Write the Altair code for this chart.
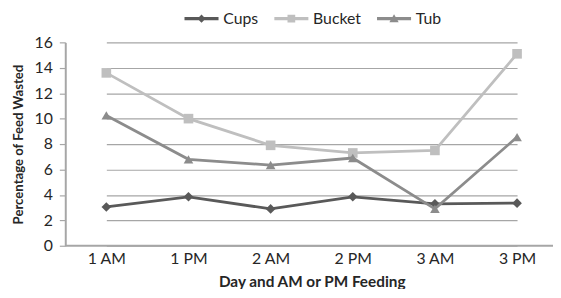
import altair as alt
import pandas as pd

times = ["1 AM", "1 PM", "2 AM", "2 PM", "3 AM", "3 PM"]
series = ["Cups", "Bucket", "Tub"]
cups = [3.05, 3.85, 2.9, 3.85, 3.3, 3.35]
bucket = [13.6, 10.0, 7.9, 7.3, 7.5, 15.1]
tub = [10.25, 6.8, 6.35, 6.9, 2.9, 8.55]
y_ticks = [0, 2, 4, 6, 8, 10, 12, 14, 16]
baseline = [0]

colors = ["#595959", "#bfbfbf", "#8c8c8c"]
shapes = ["diamond", "square", "triangle-up"]
legend_paths = [
    "M-3,-0.28H3V0.28H-3Z M0,-0.72L0.72,0L0,0.72L-0.72,0Z",
    "M-3,-0.28H3V0.28H-3Z M-0.68,-0.68H0.68V0.68H-0.68Z",
    "M-3,-0.28H3V0.28H-3Z M0,-0.78L0.82,0.62L-0.82,0.62Z",
]

rows = []
for s, vals in zip(series, [cups, bucket, tub]):
    for t, v in zip(times, vals):
        rows.append({"time": t, "series": s, "value": v})
df = pd.DataFrame(rows)

FONT = "Lato"
TXT = "#262626"
AXC = "#a6a6a6"

x_enc = alt.X(
    "time:N",
    sort=times,
    scale=alt.Scale(type="point", domain=times, range=[41.6, 457.6], padding=0),
    axis=alt.Axis(
        title="Day and AM or PM Feeding",
        domain=False,
        ticks=False,
        grid=False,
        labelAngle=0,
        labelPadding=5,
        labelFontSize=16,
        labelFont=FONT,
        labelColor=TXT,
        titleFont=FONT,
        titleFontSize=15.5,
        titleFontWeight="bold",
        titleColor=TXT,
        titlePadding=8,
    ),
)
y_enc = alt.Y(
    "value:Q",
    scale=alt.Scale(domain=[0, 16], nice=False, zero=True),
    axis=alt.Axis(
        values=y_ticks,
        title="Percentage of Feed Wasted",
        grid=True,
        gridColor=AXC,
        gridWidth=1.2,
        domainColor=AXC,
        domainWidth=2,
        tickColor=AXC,
        tickWidth=1.2,
        tickSize=6,
        labelPadding=7,
        labelFontSize=16,
        labelFont=FONT,
        labelColor=TXT,
        titleFont=FONT,
        titleFontSize=13.3,
        titleFontWeight="bold",
        titleColor=TXT,
        titlePadding=9,
    ),
)

base_rule = alt.Chart(pd.DataFrame({"value": baseline})).mark_rule(
    color=AXC, strokeWidth=2
).encode(y=y_enc)

layers = [base_rule]
for s, c, sh in zip(series, colors, shapes):
    sub = alt.Chart(df).transform_filter(alt.datum.series == s)
    layers.append(
        sub.mark_line(color=c, strokeWidth=2.8).encode(x=x_enc, y=y_enc)
    )
    layers.append(
        sub.mark_point(filled=True, shape=sh, size=95, color=c, opacity=1).encode(
            x=x_enc, y=y_enc
        )
    )

leg = alt.Legend(
    title=None,
    orient="none",
    legendX=130,
    legendY=-32,
    direction="horizontal",
    columns=3,
    symbolSize=132,
    symbolStrokeWidth=0,
    labelOffset=14,
    columnPadding=15,
    labelFontSize=16,
    labelFont=FONT,
    labelColor=TXT,
)
legend_layer = (
    alt.Chart(df)
    .mark_point(filled=True, opacity=1)
    .encode(
        shape=alt.Shape(
            "series:N", sort=series,
            scale=alt.Scale(domain=series, range=legend_paths), legend=leg
        ),
        color=alt.Color(
            "series:N", sort=series,
            scale=alt.Scale(domain=series, range=colors), legend=leg
        ),
    )
    .transform_filter("false")
)
layers.append(legend_layer)

chart = (
    alt.layer(*layers)
    .properties(
        width=494,
        height=206,
        autosize=alt.AutoSizeParams(type="none"),
        padding={"left": 58, "top": 33, "right": 0, "bottom": 42},
    )
    .configure_view(stroke=None)
)

chart.save("out.html", embed_options={"renderer": "svg", "actions": False})
